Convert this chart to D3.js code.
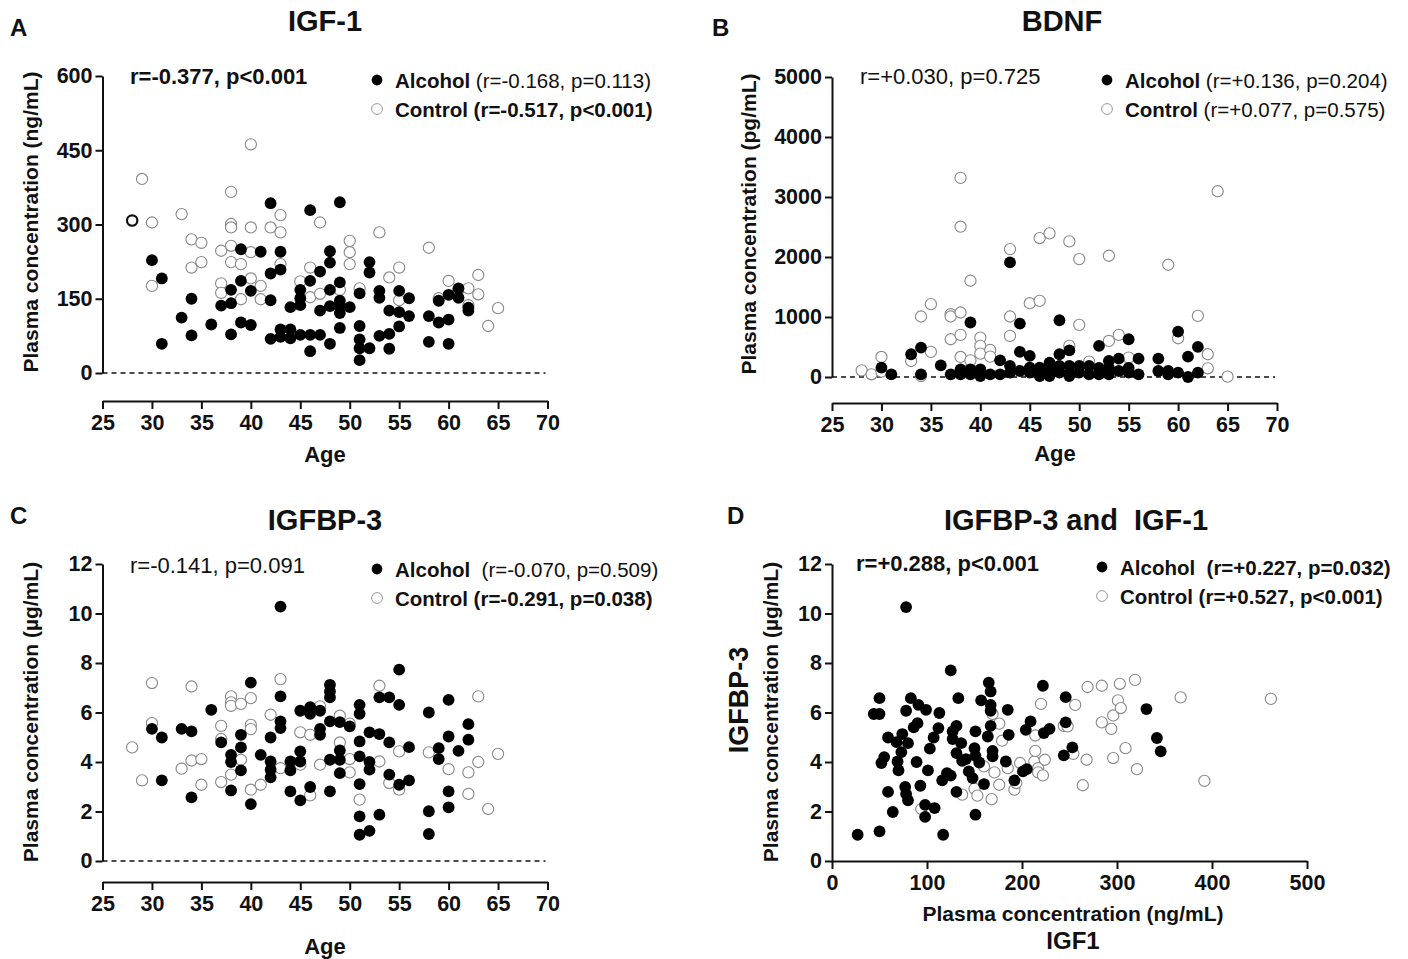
<!DOCTYPE html>
<html>
<head>
<meta charset="utf-8">
<script src="https://cdn.jsdelivr.net/npm/d3@7"></script>
<style>
body { margin: 0; background: #fff; }
text { font-family: "Liberation Sans", Arial, Helvetica, sans-serif; fill: #111; }
</style>
</head>
<body>
<svg id="fig" width="1408" height="959"></svg>
<script>
// values: [x, y]
let igf1Alcohol = [[30,228],[31,191],[31,59],[33,112],[34,150],[34,76],[36,98],[37,136],[38,168],[38,141],[38,78],[39,250],[39,186],[39,102],[40,166],[40,97],[41,245],[42,343],[42,201],[42,147],[42,69],[43,245],[43,209],[43,88],[43,73],[44,133],[44,88],[44,70],[45,168],[45,151],[45,137],[45,77],[46,329],[46,186],[46,77],[46,44],[47,205],[47,126],[47,77],[48,246],[48,223],[48,168],[48,135],[48,59],[49,345],[49,183],[49,146],[49,135],[49,121],[49,91],[50,133],[51,161],[51,95],[51,68],[51,50],[51,26],[52,224],[52,203],[52,50],[53,166],[53,152],[53,75],[54,126],[54,79],[54,49],[55,166],[55,123],[55,94],[56,151],[56,115],[58,115],[58,63],[59,146],[59,102],[60,158],[60,108],[60,59],[61,171],[61,152],[62,132],[62,126]];
let igf1Control = [[29,392],[30,304],[30,176],[33,321],[34,270],[34,213],[35,263],[35,224],[37,247],[37,181],[37,162],[38,366],[38,301],[38,294],[38,257],[38,224],[39,220],[39,149],[40,462],[40,294],[40,244],[40,191],[41,176],[41,149],[42,294],[43,319],[43,284],[43,220],[45,185],[46,213],[46,153],[47,304],[47,160],[49,168],[50,267],[50,244],[50,220],[51,171],[53,284],[54,193],[55,213],[55,147],[58,253],[59,151],[60,186],[61,168],[62,171],[62,137],[63,198],[63,159],[64,95],[65,131]];
let igf1ControlBold = [[28,308]];

let bdnfAlcohol = [[30,156],[31,45],[33,379],[34,490],[34,45],[36,195],[37,45],[38,128],[38,45],[39,908],[39,128],[39,45],[40,128],[40,17],[41,45],[42,278],[42,45],[43,1910],[43,184],[43,72],[44,890],[44,418],[44,100],[45,351],[45,156],[45,72],[46,156],[46,72],[46,17],[47,239],[47,100],[47,17],[48,946],[48,379],[48,184],[48,72],[49,445],[49,184],[49,72],[49,17],[50,184],[50,72],[51,184],[51,45],[52,518],[52,150],[52,45],[53,267],[53,150],[53,45],[54,306],[54,100],[55,629],[55,150],[55,72],[56,306],[56,45],[58,306],[58,100],[59,100],[59,45],[60,757],[60,72],[61,340],[61,0],[62,501],[62,72]];
let bdnfControl = [[28,111],[29,45],[30,334],[30,89],[33,267],[34,1008],[34,17],[35,1214],[35,418],[37,1047],[37,1008],[37,629],[38,3318],[38,2505],[38,1075],[38,702],[38,334],[39,1604],[39,278],[40,657],[40,518],[40,390],[41,451],[41,340],[43,2132],[43,1008],[43,685],[45,1230],[46,2316],[46,1269],[47,2394],[49,2260],[49,518],[50,1965],[50,869],[51,256],[53,2021],[53,601],[54,702],[55,323],[59,1871],[60,646],[62,1019],[63,379],[63,145],[64,3096],[65,6]];

let igfbp3Alcohol = [[30,5.34],[31,4.99],[31,3.26],[33,5.34],[34,5.24],[34,2.57],[36,6.11],[37,4.79],[38,4.29],[38,4.0],[38,2.85],[39,5.1],[39,4.59],[39,3.66],[40,7.21],[40,2.3],[41,4.29],[42,4.99],[42,4.02],[42,3.69],[42,3.38],[43,10.28],[43,6.65],[43,5.64],[43,5.37],[44,4.02],[44,3.66],[44,2.81],[45,6.07],[45,4.43],[45,4.02],[45,2.45],[46,6.22],[46,5.95],[46,2.99],[47,6.07],[47,5.34],[47,5.1],[48,7.12],[48,6.85],[48,6.61],[48,5.64],[48,4.09],[48,2.81],[49,5.61],[49,4.47],[49,4.09],[49,3.55],[50,5.44],[51,6.31],[51,5.95],[51,4.83],[51,4.23],[51,3.11],[51,1.8],[51,1.06],[52,5.2],[52,4.0],[52,3.69],[52,1.22],[53,6.61],[53,5.13],[53,1.87],[54,6.61],[54,4.79],[54,3.49],[55,7.73],[55,6.31],[55,3.08],[56,4.6],[56,3.26],[58,6.0],[58,2.01],[58,1.09],[59,4.56],[59,4.12],[60,6.51],[60,5.03],[60,2.81],[60,2.17],[61,4.45],[62,5.53],[62,4.9]];
let igfbp3Control = [[28,4.59],[29,3.26],[30,7.19],[30,5.57],[33,3.73],[34,7.05],[34,4.06],[35,4.12],[35,3.08],[37,5.46],[37,4.93],[37,3.19],[38,6.65],[38,6.41],[38,6.27],[38,3.49],[39,6.35],[39,4.09],[40,6.58],[40,5.5],[40,5.33],[40,2.88],[41,3.08],[42,5.91],[43,7.35],[43,3.75],[45,5.2],[45,3.89],[46,5.1],[46,2.65],[47,6.25],[47,3.89],[49,5.87],[49,4.79],[50,5.55],[50,4.12],[50,3.58],[51,2.48],[53,7.08],[53,4.02],[54,3.15],[55,4.43],[55,2.88],[58,4.39],[60,3.71],[62,3.58],[62,2.71],[63,6.65],[63,4.0],[64,2.1],[65,4.33]];

let pairAlcohol = [[27,1.06],[44,5.94],[50,5.94],[50,6.58],[50,1.2],[52,3.96],[55,4.2],[59,4.99],[59,2.79],[64,1.98],[68,4.8],[69,4.02],[70,3.66],[73,4.4],[74,5.13],[77,2.99],[78,10.26],[78,6.07],[78,2.71],[80,2.45],[80,4.76],[83,6.58],[86,5.4],[90,5.57],[91,6.31],[89,4.0],[93,3.04],[98,2.27],[98,1.78],[99,6.11],[101,3.66],[103,4.54],[107,4.99],[108,2.14],[112,5.37],[113,5.98],[116,3.26],[117,1.06],[121,3.55],[125,7.7],[125,3.45],[127,5.24],[127,4.93],[131,5.46],[131,4.36],[131,2.79],[133,6.58],[136,4.76],[137,4.05],[141,4.12],[144,3.62],[148,3.35],[150,4.56],[151,5.24],[151,1.87],[151,4.25],[155,3.98],[157,6.49],[160,3.11],[164,5.03],[165,7.21],[167,6.85],[167,6.31],[167,6.07],[167,5.46],[169,4.45],[169,4.23],[183,4.02],[185,6.11],[186,5.1],[192,3.26],[201,3.62],[204,5.3],[205,3.71],[209,5.64],[222,7.08],[223,5.17],[229,5.34],[244,4.27],[246,6.62],[246,5.6],[253,4.59],[331,6.14],[342,4.97],[346,4.43]];
let pairControl = [[94,2.1],[137,2.68],[150,2.92],[153,2.64],[160,3.82],[168,2.5],[169,5.94],[171,3.58],[176,5.55],[176,3.08],[179,4.86],[185,3.75],[192,2.88],[194,3.15],[198,3.96],[213,4.02],[214,4.45],[214,5.07],[217,3.75],[217,3.58],[222,3.46],[224,4.09],[220,6.35],[244,5.46],[248,5.44],[254,4.33],[256,6.31],[264,3.06],[268,4.09],[269,7.03],[284,7.08],[284,5.6],[294,5.34],[296,5.88],[296,4.16],[301,6.49],[303,7.16],[304,6.18],[309,4.56],[319,7.32],[321,3.71],[367,6.61],[392,3.24],[462,6.55]];

let ageTicks = [25, 30, 35, 40, 45, 50, 55, 60, 65, 70];
let igf1Ticks = [0, 150, 300, 450, 600];
let bdnfTicks = [0, 1000, 2000, 3000, 4000, 5000];
let igfbp3Ticks = [0, 2, 4, 6, 8, 10, 12];
let pairXTicks = [0, 100, 200, 300, 400, 500];

let svg = d3.select('#fig');

function drawPanel(p) {
    let g = svg.append('g');
    let x = d3.scaleLinear().domain(p.xDomain).range(p.xRange);
    let y = d3.scaleLinear().domain(p.yDomain).range(p.yRange);

    g.append('text').attr('x', p.letter[1]).attr('y', p.letter[2])
        .attr('font-size', 24).attr('font-weight', 'bold').text(p.letter[0]);
    g.append('text').attr('x', p.title[1]).attr('y', p.title[2])
        .attr('text-anchor', 'middle').attr('font-size', 29).attr('font-weight', 'bold')
        .attr('xml:space', 'preserve').text(p.title[0]);

    // dashed zero line
    if (p.dashed) {
        g.append('line')
            .attr('x1', x(p.xDomain[0])).attr('x2', x(p.xDomain[1]) - 2)
            .attr('y1', y(0)).attr('y2', y(0))
            .attr('stroke', '#111').attr('stroke-width', 1.3).attr('stroke-dasharray', '5,4');
    }

    let yAxis = g.append('g')
        .attr('transform', 'translate(' + p.xRange[0] + ',0)')
        .call(d3.axisLeft(y).tickValues(p.yTicks).tickFormat(d3.format('d'))
            .tickSize(7).tickSizeOuter(0).tickPadding(3));
    let xAxis = g.append('g')
        .attr('transform', 'translate(0,' + p.xAxisY + ')')
        .call(d3.axisBottom(x).tickValues(p.xTicks).tickFormat(d3.format('d'))
            .tickSize(8).tickSizeOuter(0).tickPadding(6));
    [yAxis, xAxis].forEach(a => {
        a.select('.domain').attr('stroke', '#111').attr('stroke-width', 2);
        a.selectAll('.tick line').attr('stroke', '#111').attr('stroke-width', 2);
        a.selectAll('.tick text').attr('font-size', 21.5).attr('font-weight', 'bold')
            .attr('fill', '#111').attr('font-family', '"Liberation Sans", Arial, sans-serif');
    });

    // axis titles
    p.yLabels.forEach(l => {
        g.append('text')
            .attr('transform', 'translate(' + l.x + ',' + l.y + ') rotate(-90)')
            .attr('text-anchor', 'middle').attr('dominant-baseline', 'central')
            .attr('font-size', l.size).attr('font-weight', 'bold').text(l.text);
    });
    p.xLabels.forEach(l => {
        g.append('text').attr('x', l.x).attr('y', l.y)
            .attr('text-anchor', 'middle').attr('dominant-baseline', 'central')
            .attr('font-size', l.size).attr('font-weight', 'bold').text(l.text);
    });

    // points: controls underneath, alcohol on top
    g.selectAll('circle.ctl').data(p.control).enter().append('circle')
        .attr('class', 'ctl')
        .attr('cx', d => x(d[0])).attr('cy', d => y(d[1])).attr('r', 5.6)
        .attr('fill', '#fff').attr('stroke', '#888').attr('stroke-width', 1.1);
    if (p.controlBold) {
        g.selectAll('circle.ctlb').data(p.controlBold).enter().append('circle')
            .attr('class', 'ctlb')
            .attr('cx', d => x(d[0])).attr('cy', d => y(d[1])).attr('r', 5.2)
            .attr('fill', '#fff').attr('stroke', '#111').attr('stroke-width', 2.2);
    }
    g.selectAll('circle.alc').data(p.alcohol).enter().append('circle')
        .attr('class', 'alc')
        .attr('cx', d => x(d[0])).attr('cy', d => y(d[1])).attr('r', 5.9)
        .attr('fill', '#000');

    // stats text
    g.append('text').attr('x', p.stat.x).attr('y', p.stat.y)
        .attr('dominant-baseline', 'central').attr('font-size', 22)
        .attr('font-weight', p.stat.bold ? 'bold' : 'normal').text(p.stat.text);

    // legend
    p.legend.forEach((l, i) => {
        let ly = p.legendPos.y + i * 29;
        g.append('circle').attr('cx', p.legendPos.x).attr('cy', ly).attr('r', 5.4)
            .attr('fill', i === 0 ? '#000' : '#fff')
            .attr('stroke', i === 0 ? 'none' : '#999').attr('stroke-width', 1);
        let t = g.append('text').attr('x', p.legendPos.x + 18).attr('y', ly)
            .attr('dominant-baseline', 'central').attr('font-size', 20.5)
            .attr('xml:space', 'preserve');
        t.append('tspan').attr('font-weight', 'bold').text(l.name);
        t.append('tspan').attr('font-weight', l.bold ? 'bold' : 'normal').text(l.stats);
    });
}

drawPanel({
    letter: ['A', 10, 36], title: ['IGF-1', 325, 31],
    xDomain: [25, 70], xRange: [102.5, 547.5], yDomain: [0, 600], yRange: [373, 76],
    xTicks: ageTicks, yTicks: igf1Ticks, xAxisY: 401, dashed: true,
    yLabels: [{text: 'Plasma concentration (ng/mL)', x: 30, y: 222, size: 21}],
    xLabels: [{text: 'Age', x: 325, y: 454, size: 22}],
    alcohol: igf1Alcohol, control: igf1Control, controlBold: igf1ControlBold,
    stat: {text: 'r=-0.377, p<0.001', x: 130, y: 76, bold: true},
    legendPos: {x: 377, y: 80},
    legend: [{name: 'Alcohol ', stats: '(r=-0.168, p=0.113)', bold: false},
             {name: 'Control ', stats: '(r=-0.517, p<0.001)', bold: true}]
});

drawPanel({
    letter: ['B', 712, 36], title: ['BDNF', 1062, 31],
    xDomain: [25, 70], xRange: [832, 1277], yDomain: [0, 5000], yRange: [377, 77],
    xTicks: ageTicks, yTicks: bdnfTicks, xAxisY: 403, dashed: true,
    yLabels: [{text: 'Plasma concentration (pg/mL)', x: 748, y: 224, size: 21}],
    xLabels: [{text: 'Age', x: 1055, y: 453, size: 22}],
    alcohol: bdnfAlcohol, control: bdnfControl,
    stat: {text: 'r=+0.030, p=0.725', x: 860, y: 76, bold: false},
    legendPos: {x: 1107, y: 80},
    legend: [{name: 'Alcohol ', stats: '(r=+0.136, p=0.204)', bold: false},
             {name: 'Control ', stats: '(r=+0.077, p=0.575)', bold: false}]
});

drawPanel({
    letter: ['C', 10, 524], title: ['IGFBP-3', 325, 530],
    xDomain: [25, 70], xRange: [102.5, 547.5], yDomain: [0, 12], yRange: [861, 564],
    xTicks: ageTicks, yTicks: igfbp3Ticks, xAxisY: 882, dashed: true,
    yLabels: [{text: 'Plasma concentration (\u00b5g/mL)', x: 30, y: 712, size: 21}],
    xLabels: [{text: 'Age', x: 325, y: 946, size: 22}],
    alcohol: igfbp3Alcohol, control: igfbp3Control,
    stat: {text: 'r=-0.141, p=0.091', x: 130, y: 565, bold: false},
    legendPos: {x: 377, y: 569},
    legend: [{name: 'Alcohol  ', stats: '(r=-0.070, p=0.509)', bold: false},
             {name: 'Control ', stats: '(r=-0.291, p=0.038)', bold: true}]
});

drawPanel({
    letter: ['D', 727, 524], title: ['IGFBP-3 and  IGF-1', 1076, 530],
    xDomain: [0, 500], xRange: [832, 1307], yDomain: [0, 12], yRange: [861, 564],
    xTicks: pairXTicks, yTicks: igfbp3Ticks, xAxisY: 861, dashed: false,
    yLabels: [{text: 'IGFBP-3', x: 739, y: 700, size: 27},
              {text: 'Plasma concentration (\u00b5g/mL)', x: 770, y: 712, size: 21}],
    xLabels: [{text: 'Plasma concentration (ng/mL)', x: 1073, y: 913, size: 21},
              {text: 'IGF1', x: 1073, y: 940, size: 24}],
    alcohol: pairAlcohol, control: pairControl,
    stat: {text: 'r=+0.288, p<0.001', x: 856, y: 563, bold: true},
    legendPos: {x: 1102, y: 567},
    legend: [{name: 'Alcohol  ', stats: '(r=+0.227, p=0.032)', bold: true},
             {name: 'Control ', stats: '(r=+0.527, p<0.001)', bold: true}]
});
</script>
</body>
</html>
